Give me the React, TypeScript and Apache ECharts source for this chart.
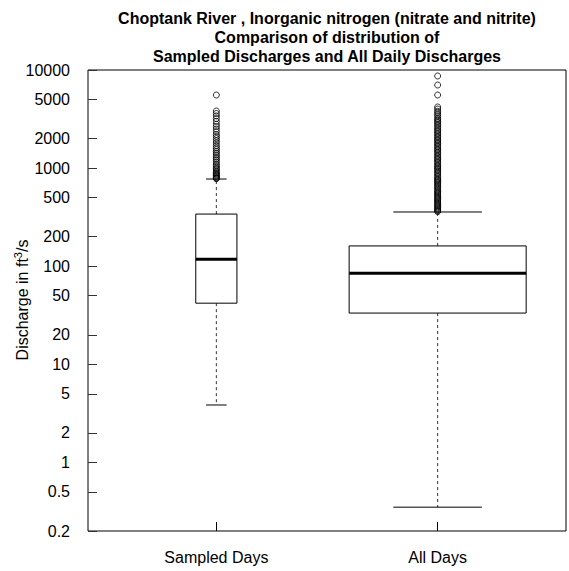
import React, { useEffect, useRef } from 'react';
import * as echarts from 'echarts';

const categories = ['Sampled Days', 'All Days'];
const categoryPositions = [1, 2];
const boxMin = [3.85, 0.35];
const boxQ1 = [42, 33.3];
const boxMedian = [118, 85];
const boxQ3 = [340, 161];
const boxMax = [774, 357];
const boxWidths = [0.186, 0.8];

const sampledOutliers = [
  5560, 3820, 3600, 3400, 3200, 3000, 2800, 2650, 2500, 2350, 2200, 2100, 2000,
  1900, 1800, 1700, 1620, 1550, 1480, 1420, 1360, 1300, 1250, 1200, 1150, 1100,
  1060, 1020, 990, 960, 930, 900, 880, 860, 840, 820, 800, 790, 780,
];
const allDaysOutliers = [
  8690, 7030, 5560, 4200, 4000, 3800, 3650, 3500, 3350, 3200, 3100, 3000, 2900,
  2800, 2700, 2600, 2500, 2420, 2340, 2260, 2180, 2100, 2030, 1960, 1900, 1840,
  1780, 1720, 1660, 1600, 1550, 1500, 1450, 1400, 1350, 1300, 1260, 1220, 1180,
  1140, 1100, 1060, 1030, 1000, 970, 940, 910, 880, 850, 820, 790, 770, 750, 730,
  710, 690, 670, 650, 630, 610, 590, 575, 560, 545, 530, 515, 500, 488, 475, 462,
  450, 438, 426, 415, 404, 394, 384, 375, 366, 360,
];

const yTickValues = [0.2, 0.5, 1, 2, 5, 10, 20, 50, 100, 200, 500, 1000, 2000, 5000, 10000];
const yTickLabels = ['0.2', '0.5', '1', '2', '5', '10', '20', '50', '100', '200', '500', '1000', '2000', '5000', '10000'];

const titleLines = [
  'Choptank River , Inorganic nitrogen (nitrate and nitrite)',
  'Comparison of distribution of',
  'Sampled Discharges and All Daily Discharges',
];

const FONT = '"Liberation Sans", Arial, Helvetica, sans-serif';

export default function App() {
  const ref = useRef<HTMLDivElement>(null);
  useEffect(() => {
    if (!ref.current) return;
    const chart = echarts.init(ref.current, null, { renderer: 'svg' });
    const boxData = categories.map((c, i) => [
      categoryPositions[i], boxMin[i], boxQ1[i], boxMedian[i], boxQ3[i], boxMax[i], boxWidths[i],
    ]);
    const labelFor = (v: number) => {
      let best = 0;
      let bd = Infinity;
      yTickValues.forEach((t, i) => {
        const d = Math.abs(Math.log10(t) - Math.log10(v));
        if (d < bd) { bd = d; best = i; }
      });
      return yTickLabels[best];
    };
    const option: any = {
      animation: false,
      textStyle: { fontFamily: FONT },
      grid: { left: 88, right: 3, top: 70, bottom: 40, show: true, borderColor: '#000', borderWidth: 1 },
      graphic: [
        ...titleLines.map((t, i) => ({
          type: 'text', x: 327, y: 18 + i * 19,
          style: { text: t, fill: '#000', font: `bold 16px ${FONT}`, textAlign: 'center', textVerticalAlign: 'middle' },
        })),
        {
          type: 'text', x: 22, y: 300, rotation: Math.PI / 2,
          style: {
            text: 'Discharge in ft{sup|3}/s', fill: '#000', font: `16px ${FONT}`,
            textAlign: 'center', textVerticalAlign: 'middle',
            rich: { sup: { fontSize: 11, fontFamily: FONT, verticalAlign: 'top', lineHeight: 20 } },
          },
        },
      ],
      xAxis: {
        type: 'value', min: 0.42, max: 2.58,
        axisLine: { show: false },
        splitLine: { show: false },
        axisTick: { show: true, inside: true, length: 9, customValues: categoryPositions, lineStyle: { color: '#000' } },
        axisLabel: {
          customValues: categoryPositions, margin: 18, color: '#000', fontSize: 16, fontFamily: FONT,
          formatter: (v: number) => categories[Math.round(v) - 1] ?? '',
        },
      },
      yAxis: {
        type: 'log', logBase: 10, min: 0.2, max: 10000,
        axisLine: { show: false },
        splitLine: { show: false },
        axisTick: { show: true, inside: true, length: 9, customValues: yTickValues, lineStyle: { color: '#333' } },
        axisLabel: {
          customValues: yTickValues, margin: 18, color: '#000', fontSize: 16, fontFamily: FONT,
          formatter: (v: number) => labelFor(v),
        },
      },
      series: [
        {
          type: 'custom',
          data: boxData,
          encode: { x: 0, y: [1, 2, 3, 4, 5] },
          renderItem: (params: any, api: any) => {
            const x = api.value(0);
            const lo = api.value(1), q1 = api.value(2), med = api.value(3), q3 = api.value(4), hi = api.value(5);
            const w = api.value(6);
            const pTopL = api.coord([x - w / 2, q3]);
            const pBotR = api.coord([x + w / 2, q1]);
            const pMedL = api.coord([x - w / 2, med]);
            const pMedR = api.coord([x + w / 2, med]);
            const pHi = api.coord([x, hi]);
            const pLo = api.coord([x, lo]);
            const capL = api.coord([x - w / 4, hi])[0];
            const capR = api.coord([x + w / 4, hi])[0];
            const cx = pHi[0];
            const dashStyle = { stroke: '#333', lineWidth: 1, lineDash: [3, 3] };
            return {
              type: 'group',
              children: [
                { type: 'line', shape: { x1: cx, y1: pTopL[1], x2: cx, y2: pHi[1] }, style: dashStyle },
                { type: 'line', shape: { x1: cx, y1: pBotR[1], x2: cx, y2: pLo[1] }, style: dashStyle },
                { type: 'line', shape: { x1: capL, y1: pHi[1], x2: capR, y2: pHi[1] }, style: { stroke: '#000', lineWidth: 1 } },
                { type: 'line', shape: { x1: capL, y1: pLo[1], x2: capR, y2: pLo[1] }, style: { stroke: '#000', lineWidth: 1 } },
                {
                  type: 'rect',
                  shape: { x: pTopL[0], y: pTopL[1], width: pBotR[0] - pTopL[0], height: pBotR[1] - pTopL[1] },
                  style: { fill: '#fff', stroke: '#000', lineWidth: 1 },
                },
                { type: 'line', shape: { x1: pMedL[0], y1: pMedL[1], x2: pMedR[0], y2: pMedR[1] }, style: { stroke: '#000', lineWidth: 3 } },
              ],
            };
          },
          z: 2,
        },
        {
          type: 'scatter',
          data: sampledOutliers.map((v) => [categoryPositions[0], v]),
          symbol: 'circle', symbolSize: 6,
          itemStyle: { color: 'transparent', borderColor: '#000', borderWidth: 1 },
          z: 3,
        },
        {
          type: 'scatter',
          data: allDaysOutliers.map((v) => [categoryPositions[1], v]),
          symbol: 'circle', symbolSize: 6,
          itemStyle: { color: 'transparent', borderColor: '#000', borderWidth: 1 },
          z: 3,
        },
      ],
    };
    chart.setOption(option);
    return () => chart.dispose();
  }, []);
  return <div ref={ref} style={{ position: 'fixed', left: 0, top: 0, width: 569, height: 571, background: '#fff' }} />;
}
